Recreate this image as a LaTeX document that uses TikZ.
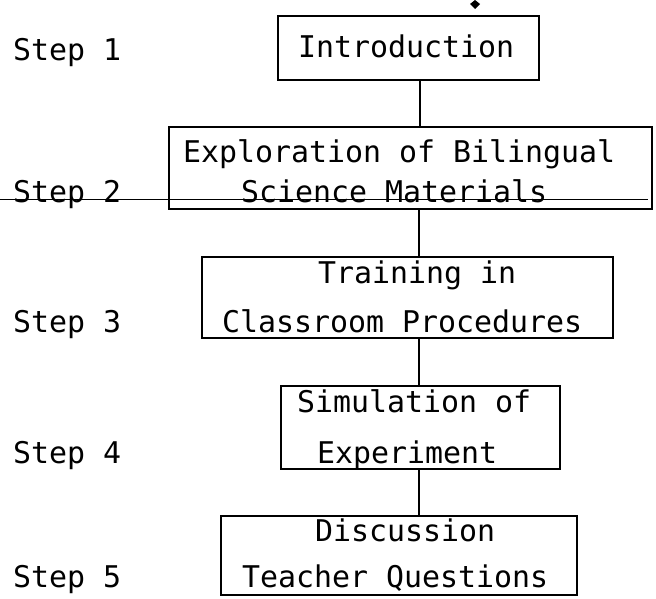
\documentclass[tikz,border=0pt]{standalone}
\usepackage{fontspec}
\setmonofont{DejaVu Sans Mono}
\begin{document}
\begin{tikzpicture}[x=1pt,y=-1pt,
  box/.style={draw, line width=2.6pt, inner sep=0pt},
  txt/.style={anchor=base west, inner sep=0pt, font=\fontsize{29.9}{30}\selectfont\ttfamily},
  link/.style={line width=2.4pt}]
\useasboundingbox (0,0) rectangle (656,599);
% scan line through Step 2
\draw[line width=0.9pt] (0,199) -- (648,199);
% boxes
\node[box, minimum width=261pt, minimum height=64pt] (intro) at (408.5,48) {};
\node[box, minimum width=483pt, minimum height=82pt] (explo) at (410.5,168) {};
\node[box, minimum width=411pt, minimum height=81pt] (train) at (407.5,297.5) {};
\node[box, minimum width=279pt, minimum height=83pt] (simul) at (420.5,427.5) {};
\node[box, minimum width=356pt, minimum height=79pt] (discu) at (399,555.5) {};
% box texts
\node[txt] (t1) at (298,58) {Introduction};
\node[txt] (t2a) at (183,163) {Exploration of Bilingual};
\node[txt] (t2b) at (241,202) {Science Materials};
\node[txt] (t3a) at (318,283) {Training in};
\node[txt] (t3b) at (222,332) {Classroom Procedures};
\node[txt] (t4a) at (297,412) {Simulation of};
\node[txt] (t4b) at (317,463) {Experiment};
\node[txt] (t5a) at (315,541) {Discussion};
\node[txt] (t5b) at (242,587) {Teacher Questions};
% step labels
\node[txt] (s1) at (13,61) {Step 1};
\node[txt] (s2) at (13,202) {Step 2};
\node[txt] (s3) at (13,332) {Step 3};
\node[txt] (s4) at (13,463) {Step 4};
\node[txt] (s5) at (13,587) {Step 5};
% connectors
\coordinate (c1) at (420,0);
\coordinate (c2) at (419,0);
\draw[link] (intro.south -| c1) -- (explo.north -| c1);
\draw[link] (explo.south -| c2) -- (train.north -| c2);
\draw[link] (train.south -| c2) -- (simul.north -| c2);
\draw[link] (simul.south -| c2) -- (discu.north -| c2);
% mark at top
\fill (475,0) -- (480,4) -- (475,9) -- (470,4) -- cycle;
\end{tikzpicture}
\end{document}
